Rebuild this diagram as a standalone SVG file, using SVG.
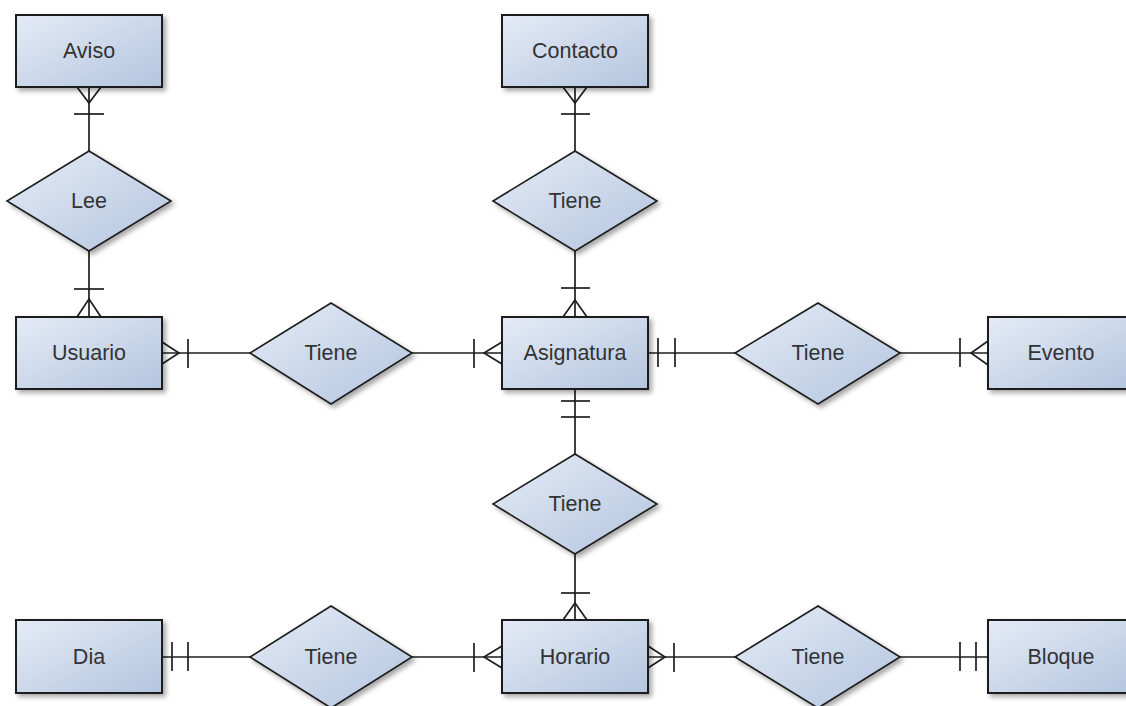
<svg xmlns="http://www.w3.org/2000/svg" width="1126" height="706" viewBox="0 0 1126 706">
  <defs>
    <linearGradient id="fill" x1="0" y1="0" x2="1" y2="1">
      <stop offset="0" stop-color="#e5ebf6"/>
      <stop offset="1" stop-color="#b3c5df"/>
    </linearGradient>
    <filter id="shadow" x="-20%" y="-20%" width="150%" height="150%">
      <feDropShadow dx="3" dy="3" stdDeviation="2.5" flood-color="#000" flood-opacity="0.35"/>
    </filter>
  </defs>
  <style>
    .entity, .relation { fill: url(#fill); stroke: #1e1e1e; stroke-width: 2; filter: url(#shadow); }
    .relation { stroke-width: 1.6; stroke-linejoin: miter; }
    .label { font-family: "Liberation Sans", Arial, sans-serif; font-size: 21.5px; fill: #333; text-anchor: middle; dominant-baseline: central; }
    .edges path, .edges line { fill: none; stroke: #1e1e1e; stroke-width: 1.7; }
  </style>
  <rect width="1126" height="706" fill="#fff"/>

  <!-- connectors with cardinality ends -->
  <g class="edges">
    <!-- Aviso - Lee -->
    <line x1="89" y1="87" x2="89" y2="151"/>
    <path d="M77 87 L89 103 L101 87"/>
    <line x1="74" y1="114" x2="104" y2="114"/>
    <!-- Lee - Usuario -->
    <line x1="89" y1="251" x2="89" y2="317"/>
    <path d="M77 317 L89 299 L101 317"/>
    <line x1="74" y1="289" x2="104" y2="289"/>
    <!-- Usuario - Tiene -->
    <line x1="162" y1="353" x2="250" y2="353"/>
    <path d="M162 342 L179 353 L162 364"/>
    <line x1="188" y1="339" x2="188" y2="368"/>
    <!-- Tiene - Asignatura -->
    <line x1="412" y1="353" x2="502" y2="353"/>
    <path d="M502 342 L484 353 L502 364"/>
    <line x1="474" y1="339" x2="474" y2="368"/>
    <!-- Contacto - Tiene -->
    <line x1="575" y1="87" x2="575" y2="151"/>
    <path d="M563 87 L575 103 L587 87"/>
    <line x1="561" y1="114" x2="590" y2="114"/>
    <!-- Tiene - Asignatura (top) -->
    <line x1="575" y1="251" x2="575" y2="317"/>
    <path d="M563 317 L575 300 L587 317"/>
    <line x1="561" y1="288" x2="590" y2="288"/>
    <!-- Asignatura - Tiene (right) -->
    <line x1="648" y1="353" x2="735" y2="353"/>
    <line x1="658" y1="338" x2="658" y2="367"/>
    <line x1="675" y1="338" x2="675" y2="367"/>
    <!-- Tiene - Evento -->
    <line x1="900" y1="353" x2="988" y2="353"/>
    <path d="M988 341 L971 353 L988 365"/>
    <line x1="960" y1="338" x2="960" y2="367"/>
    <!-- Asignatura - Tiene (below) -->
    <line x1="575" y1="389" x2="575" y2="454"/>
    <line x1="561" y1="401" x2="590" y2="401"/>
    <line x1="561" y1="417" x2="590" y2="417"/>
    <!-- Tiene - Horario -->
    <line x1="575" y1="554" x2="575" y2="620"/>
    <path d="M563 620 L575 603 L587 620"/>
    <line x1="561" y1="593" x2="590" y2="593"/>
    <!-- Dia - Tiene -->
    <line x1="162" y1="657" x2="250" y2="657"/>
    <line x1="172" y1="642" x2="172" y2="671"/>
    <line x1="188" y1="642" x2="188" y2="671"/>
    <!-- Tiene - Horario (left) -->
    <line x1="412" y1="657" x2="502" y2="657"/>
    <path d="M502 646 L484 657 L502 668"/>
    <line x1="474" y1="643" x2="474" y2="672"/>
    <!-- Horario - Tiene (right) -->
    <line x1="648" y1="657" x2="735" y2="657"/>
    <path d="M648 646 L665 657 L648 668"/>
    <line x1="674" y1="643" x2="674" y2="672"/>
    <!-- Tiene - Bloque -->
    <line x1="900" y1="657" x2="988" y2="657"/>
    <line x1="960" y1="642" x2="960" y2="671"/>
    <line x1="976" y1="642" x2="976" y2="671"/>
  </g>

  <!-- entities -->
  <g id="aviso"><rect class="entity" x="16" y="15" width="146" height="72"/><text class="label" x="89" y="51">Aviso</text></g>
  <g id="contacto"><rect class="entity" x="502" y="15" width="146" height="72"/><text class="label" x="575" y="51">Contacto</text></g>
  <g id="usuario"><rect class="entity" x="16" y="317" width="146" height="72"/><text class="label" x="89" y="353">Usuario</text></g>
  <g id="asignatura"><rect class="entity" x="502" y="317" width="146" height="72"/><text class="label" x="575" y="353">Asignatura</text></g>
  <g id="evento"><rect class="entity" x="988" y="317" width="146" height="72"/><text class="label" x="1061" y="353">Evento</text></g>
  <g id="dia"><rect class="entity" x="16" y="620" width="146" height="73"/><text class="label" x="89" y="657">Dia</text></g>
  <g id="horario"><rect class="entity" x="502" y="620" width="146" height="73"/><text class="label" x="575" y="657">Horario</text></g>
  <g id="bloque"><rect class="entity" x="988" y="620" width="146" height="73"/><text class="label" x="1061" y="657">Bloque</text></g>

  <!-- relationships -->
  <g id="lee"><polygon class="relation" points="89,151 171,201 89,251 7,201"/><text class="label" x="89" y="201">Lee</text></g>
  <g id="tiene-contacto"><polygon class="relation" points="575,151 657,201 575,251 493,201"/><text class="label" x="575" y="201">Tiene</text></g>
  <g id="tiene-usuario"><polygon class="relation" points="331,303 412,353 331,404 250,353"/><text class="label" x="331" y="353">Tiene</text></g>
  <g id="tiene-evento"><polygon class="relation" points="818,303 900,353 818,404 735,353"/><text class="label" x="818" y="353">Tiene</text></g>
  <g id="tiene-horario"><polygon class="relation" points="575,454 657,504 575,554 493,504"/><text class="label" x="575" y="504">Tiene</text></g>
  <g id="tiene-dia"><polygon class="relation" points="331,606 412,657 331,708 250,657"/><text class="label" x="331" y="657">Tiene</text></g>
  <g id="tiene-bloque"><polygon class="relation" points="818,606 900,657 818,708 735,657"/><text class="label" x="818" y="657">Tiene</text></g>
</svg>
